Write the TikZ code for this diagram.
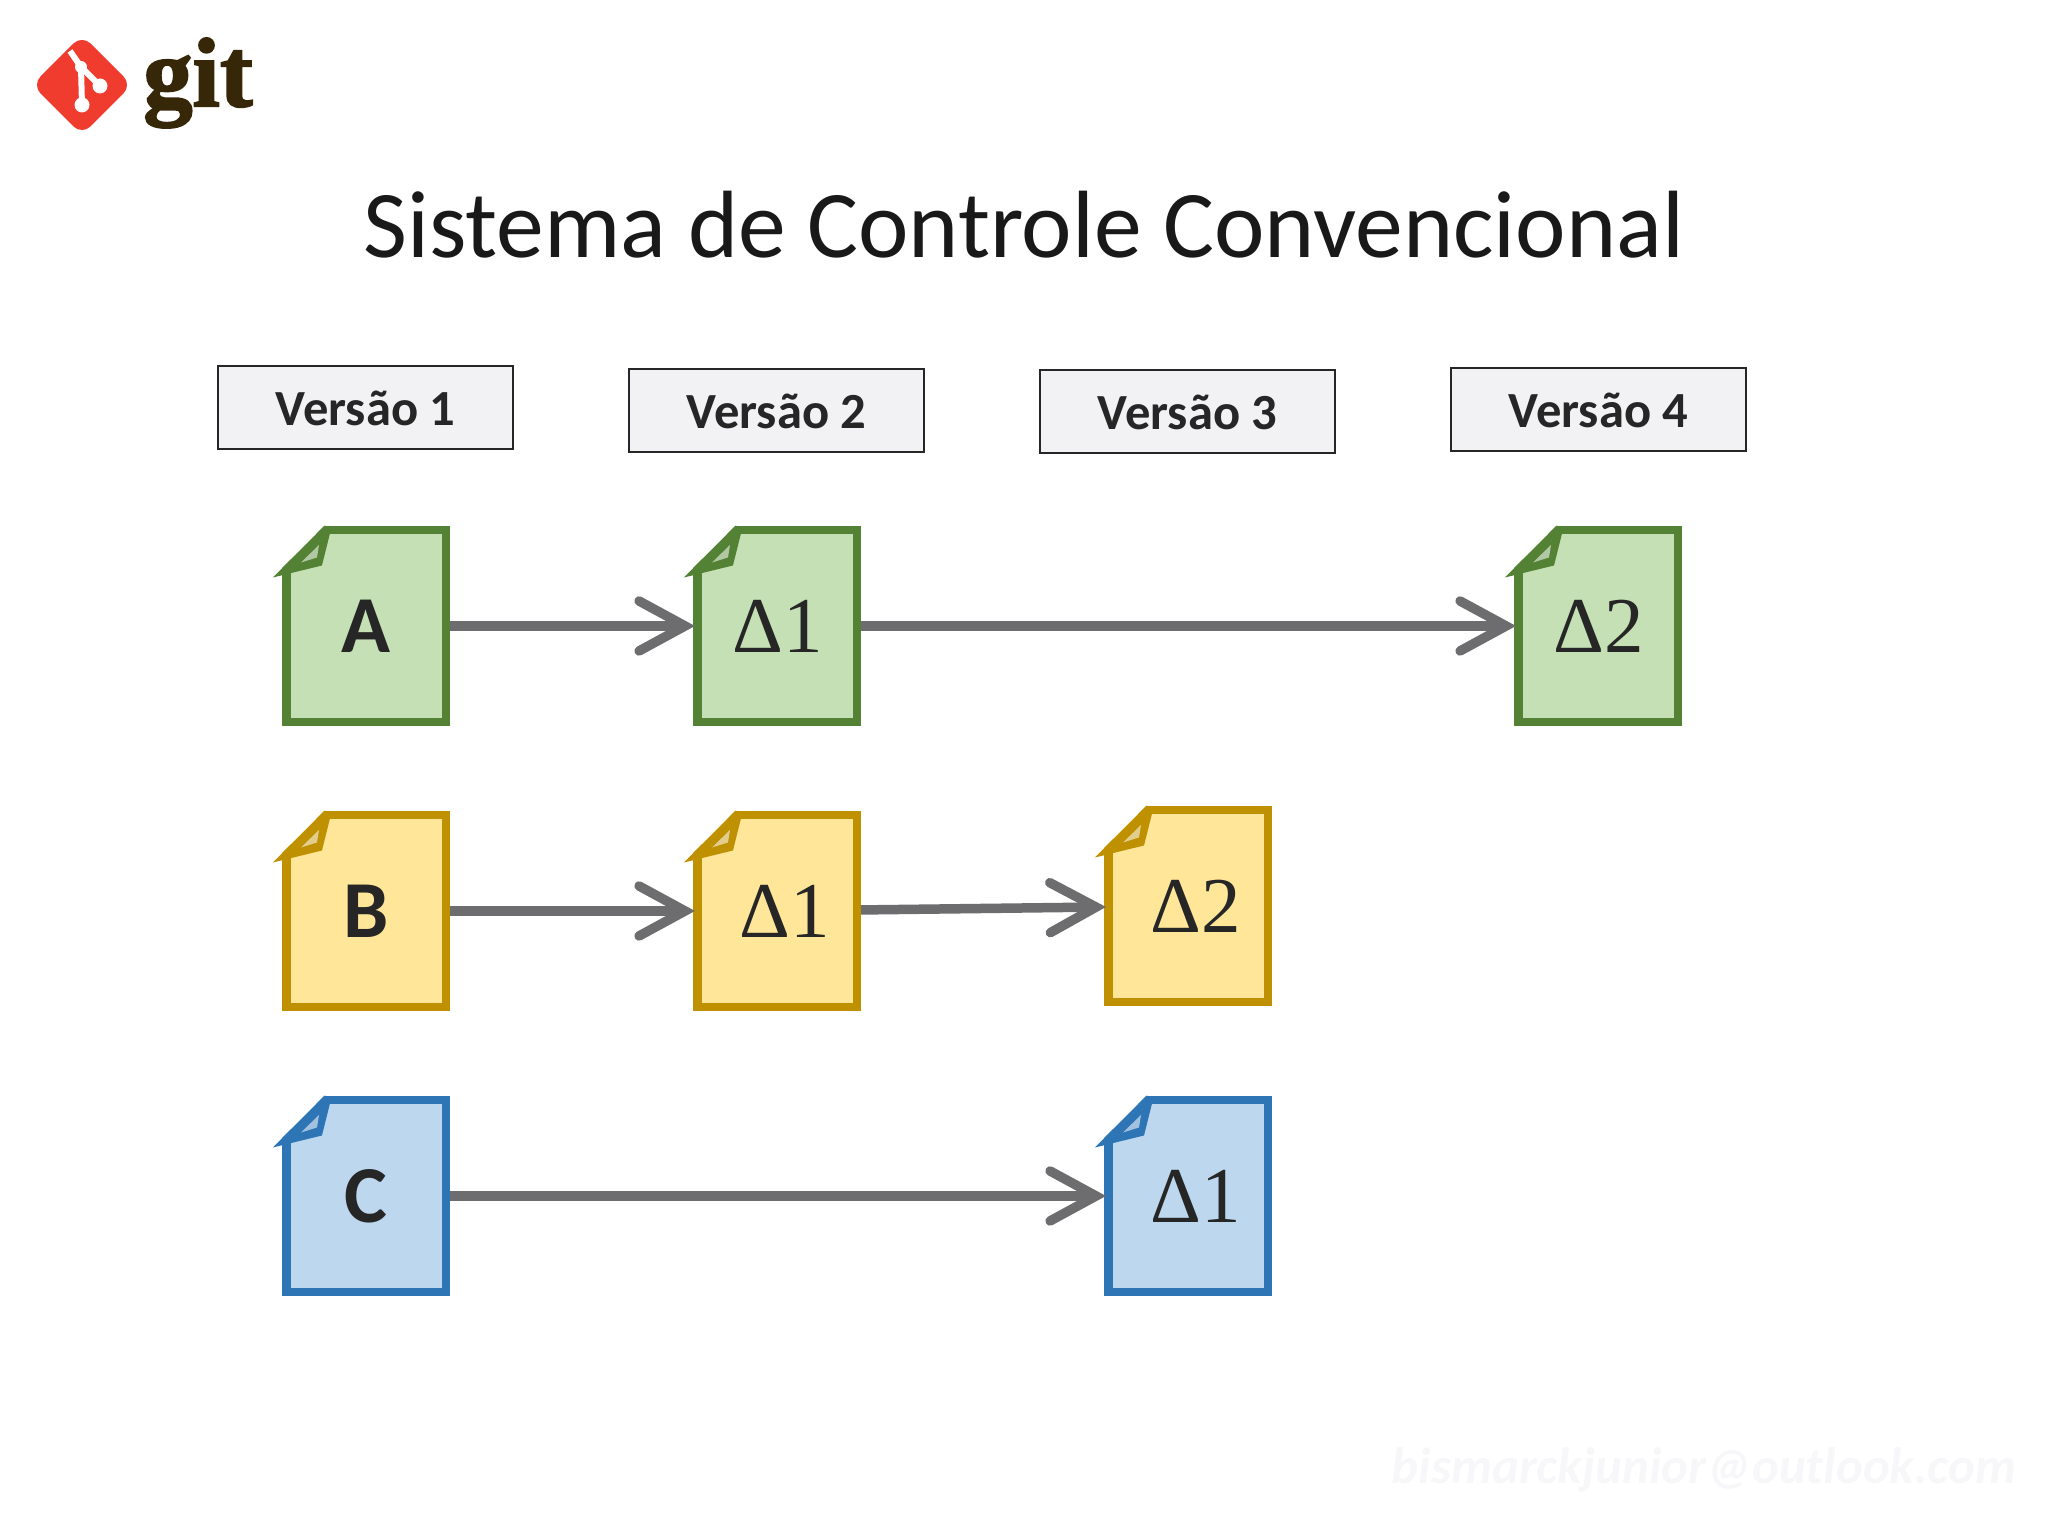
\documentclass[tikz,border=0pt]{standalone}
\usepackage{fontspec}
\setmainfont{Carlito}
\newfontfamily\deltafont{Liberation Serif}
\newfontfamily\gitfont[FakeBold=2]{Liberation Serif}
\usetikzlibrary{arrows.meta, positioning, calc}
\definecolor{gitred}{HTML}{F03C2E}
\definecolor{gitbrown}{HTML}{362709}
\definecolor{inkgray}{HTML}{262626}
\definecolor{arrowgray}{HTML}{6D6D70}
\definecolor{boxfill}{HTML}{F2F2F5}
\definecolor{mailgray}{HTML}{F7F6F8}
\definecolor{greenline}{HTML}{548235}
\definecolor{greenfill}{HTML}{C5E0B4}
\definecolor{yellowline}{HTML}{BF9000}
\definecolor{yellowfill}{HTML}{FFE699}
\definecolor{blueline}{HTML}{2E75B6}
\definecolor{bluefill}{HTML}{BDD7EE}
\tikzstyle{version} = [rectangle, minimum width=2.95cm, minimum height=0.83cm, text centered, draw=black!85, line width=0.2mm, fill=boxfill, font=\fontsize{14.4}{17}\selectfont\bfseries, text=inkgray]
\tikzstyle{doc} = [rectangle, minimum width=1.595cm, minimum height=1.92cm, inner sep=0pt, line width=0.85mm]
\tikzstyle{docgreen} = [doc, draw=greenline, fill=greenfill]
\tikzstyle{docyellow} = [doc, draw=yellowline, fill=yellowfill]
\tikzstyle{docblue} = [doc, draw=blueline, fill=bluefill]
\tikzstyle{letter} = [text=inkgray, font=\fontsize{23}{28}\selectfont\bfseries]
\tikzstyle{delta} = [text=inkgray, font=\fontsize{22.5}{28}\selectfont\deltafont]
\tikzstyle{arrow} = [line width=0.95mm, arrowgray, shorten >=-0.2mm, -{Straight Barb[length=4.6mm, width=5mm, line cap=round]}]
% dog-ear on the top left corner of a file
\newcommand{\docfold}[2]{
    \fill [white] ($(#1.center)+(-0.41,-0.99)+(0,2)$) -- ++(-0.52,-0.52) -- ++(0,0.6) -- ++(0.52,0) -- cycle;
    \begin{scope}[shift={(#1.center)}]
        \fill [#2] (-0.41,1.005) -- (-0.93,0.485) -- (-0.44,0.605) -- (-0.36,0.925) -- cycle;
        \fill [#2!45!white] (-0.47,0.81) -- (-0.65,0.635) -- (-0.49,0.685) -- cycle;
    \end{scope}
}
\begin{document}
\begin{tikzpicture}[node distance=4.11cm]
    \useasboundingbox (0,0) rectangle (20.48,15.36);

    % logo
    \fill [gitred, rounded corners=1.2mm] (0.82,15.01) -- (1.32,14.51) -- (0.82,14.01) -- (0.32,14.51) -- cycle;
    \draw [white, line width=0.6mm] (0.70,14.85) -- (0.81,14.69) -- (0.82,14.31);
    \draw [white, line width=0.6mm] (0.81,14.69) -- (1.00,14.50);
    \fill [white] (0.81,14.69) circle (0.06);
    \fill [white] (1.00,14.50) circle (0.075);
    \fill [white] (0.82,14.31) circle (0.075);
    \node (git) [anchor=center, text=gitbrown, font=\fontsize{28}{32}\selectfont\gitfont\bfseries] at (1.98,14.53) {git};

    \node (title) [font=\fontsize{27.2}{32}\selectfont, text=black!90] at (10.24,13.11) {Sistema de Controle Convencional};

    % versions
    \node (v1) [version] at (3.655,11.28) {Versão 1};
    \node (v2) [version, right of=v1, yshift=-0.03cm] {Versão 2};
    \node (v3) [version, right of=v2, yshift=-0.01cm] {Versão 3};
    \node (v4) [version, right of=v3, yshift=0.02cm] {Versão 4};

    % files
    \node (a1) [docgreen] at (3.66,9.10) {};
    \node (a2) [docgreen, right of=a1] {};
    \node (a4) [docgreen, right of=a2, xshift=4.1cm] {};
    \node (b1) [docyellow, below of=a1, yshift=1.26cm] {};
    \node (b2) [docyellow, right of=b1] {};
    \node (b3) [docyellow, right of=b2, yshift=0.05cm] {};
    \node (c1) [docblue, below of=b1, yshift=1.26cm] {};
    \node (c3) [docblue, right of=c1, xshift=4.11cm] {};

    \docfold{a1}{greenline}
    \docfold{a2}{greenline}
    \docfold{a4}{greenline}
    \docfold{b1}{yellowline}
    \docfold{b2}{yellowline}
    \docfold{b3}{yellowline}
    \docfold{c1}{blueline}
    \docfold{c3}{blueline}

    % file labels
    \node [letter] at (a1.center) {A};
    \node [letter] at (b1.center) {B};
    \node [letter] at (c1.center) {C};
    \node [delta, xshift=0.01cm] at (a2.center) {Δ1};
    \node [delta, xshift=0.01cm] at (a4.center) {Δ2};
    \node [delta, xshift=0.08cm] at (b2.center) {Δ1};
    \node [delta, xshift=0.08cm] at (b3.center) {Δ2};
    \node [delta, xshift=0.08cm] at (c3.center) {Δ1};

    \draw [arrow] (a1) -- (a2);
    \draw [arrow] (a2) -- (a4);
    \draw [arrow] (b1) -- (b2);
    \draw [arrow] (b2) -- (b3);
    \draw [arrow] (c1) -- (c3);

    \node (mail) [text=mailgray, font=\fontsize{14.5}{18}\selectfont\bfseries\itshape] at (17.04,0.66) {bismarckjunior@outlook.com};
\end{tikzpicture}
\end{document}
